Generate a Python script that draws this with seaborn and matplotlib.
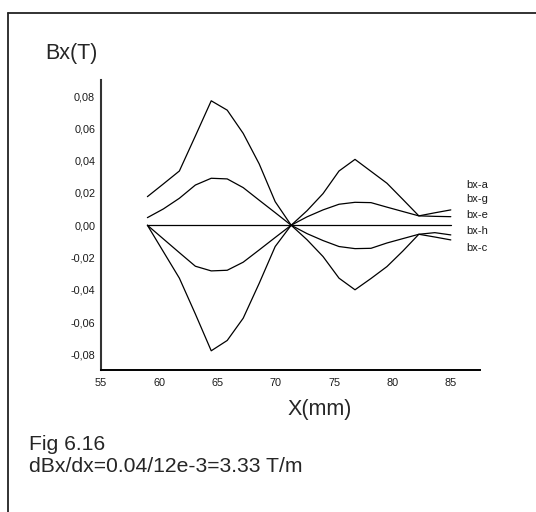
import matplotlib
matplotlib.use("Agg")
import matplotlib.pyplot as plt
from matplotlib.lines import Line2D
from matplotlib.ticker import FixedLocator, MultipleLocator
import numpy as np
import pandas as pd
import seaborn as sns

# Probe positions along x (mm)
x_mm = [59.0, 60.37, 61.74, 63.11, 64.47, 65.84, 67.21, 68.58, 69.95, 71.32,
        72.68, 74.05, 75.42, 76.79, 78.16, 79.53, 80.89, 82.26, 83.63, 85.0]

# Measured Bx (T) for each run
bx_a = [0.0, -0.0164, -0.0328, -0.0550, -0.0778, -0.0714, -0.0576, -0.0360, -0.0132, 0.0,
        0.0090, 0.0196, 0.0336, 0.0408, 0.0334, 0.0260, 0.0160, 0.0058, 0.0077, 0.0095]
bx_g = [0.0, -0.0085, -0.0170, -0.0254, -0.0283, -0.0279, -0.0229, -0.0153, -0.0076, 0.0,
        0.0052, 0.0095, 0.0130, 0.0142, 0.0140, 0.0112, 0.0085, 0.0058, 0.0055, 0.0053]
bx_e = [0.0] * 20
bx_h = [0.0047, 0.0101, 0.0167, 0.0249, 0.0291, 0.0287, 0.0233, 0.0155, 0.0078, 0.0,
        -0.0052, -0.0095, -0.0132, -0.0145, -0.0143, -0.0110, -0.0083, -0.0056, -0.0046, -0.0060]
bx_c = [0.0177, 0.0256, 0.0336, 0.0553, 0.0771, 0.0713, 0.0569, 0.0380, 0.0146, 0.0,
        -0.0090, -0.0194, -0.0328, -0.0400, -0.0330, -0.0256, -0.0160, -0.0056, -0.0073, -0.0091]

series_names = ["bx-a", "bx-g", "bx-e", "bx-h", "bx-c"]
series_values = [bx_a, bx_g, bx_e, bx_h, bx_c]
# Where each run's name sits, right of the curve ends (data units)
label_x = 86.3
label_y = [0.0249, 0.0163, 0.0064, -0.0035, -0.0140]

x_ticks = [55, 60, 65, 70, 75, 80, 85]
x_tick_labels = ["55", "60", "65", "70", "75", "80", "85"]
y_ticks = [-0.08, -0.06, -0.04, -0.02, 0.0, 0.02, 0.04, 0.06, 0.08]
y_tick_labels = ["-0,08", "-0,06", "-0,04", "-0,02", "0,00", "0,02", "0,04", "0,06", "0,08"]

x_label = "X(mm)"
y_label = "Bx(T)"
caption = ["Fig 6.16", "dBx/dx=0.04/12e-3=3.33 T/m"]

df = pd.concat(
    [pd.DataFrame({"x": x_mm, "bx": v, "run": n}) for n, v in zip(series_names, series_values)],
    ignore_index=True,
)

sns.set_theme(style="white")
plt.rcParams["font.family"] = ["Liberation Sans", "DejaVu Sans"]

fig = plt.figure(figsize=(5.36, 5.12), dpi=100)
ax = fig.add_axes([0.1879, 0.2764, 0.7076, 0.5674])

sns.lineplot(data=df, x="x", y="bx", hue="run", palette=["black"] * 5,
             estimator=None, sort=False, legend=False, linewidth=0.9, ax=ax)

ax.set_xlim(55, 87.5)
ax.set_ylim(-0.09, 0.09)
ax.xaxis.set_major_locator(FixedLocator(x_ticks))
ax.set_xticklabels(x_tick_labels)
ax.xaxis.set_minor_locator(MultipleLocator(2.5))
ax.yaxis.set_major_locator(FixedLocator(y_ticks))
ax.set_yticklabels(y_tick_labels)
ax.yaxis.set_minor_locator(MultipleLocator(0.01))

for side in ("top", "right"):
    ax.spines[side].set_visible(False)
ax.spines["left"].set_color("#333333")
ax.spines["left"].set_linewidth(1.5)
ax.spines["bottom"].set_color("black")
ax.spines["bottom"].set_linewidth(1.4)

ax.tick_params(axis="both", which="major", direction="in", length=4.8, width=0.9,
               color="black", labelsize=7.8, labelcolor="#1a1a1a")
ax.tick_params(axis="both", which="minor", direction="in", length=2.2, width=0.9,
               color="black")
ax.tick_params(axis="x", which="major", pad=5.5)
ax.tick_params(axis="y", which="major", pad=4)
ax.set_xlabel("")
ax.set_ylabel("")
ax.grid(False)

for name, ly in zip(series_names, label_y):
    ax.text(label_x, ly, name, fontsize=8, va="center", ha="left", color="#1a1a1a",
            clip_on=False)

# Axis titles
fig.text(45 / 536, 1 - 54 / 512, y_label, fontsize=15.5, ha="left", va="center")
fig.text(320 / 536, 1 - 409 / 512, x_label, fontsize=15.5, ha="center", va="center")

# Caption below the plot
fig.text(29 / 536, 1 - 445 / 512, caption[0], fontsize=15.2, ha="left", va="center")
fig.text(29 / 536, 1 - 466 / 512, caption[1], fontsize=15.2, ha="left", va="center")

# Frame: only the top and left borders fall inside the image
fig.add_artist(Line2D([8.3 / 536, 8.3 / 536], [0.0, 1 - 12.7 / 512],
                      transform=fig.transFigure, color="#222222", linewidth=1.3))
fig.add_artist(Line2D([8.3 / 536, 1.0], [1 - 12.7 / 512, 1 - 12.7 / 512],
                      transform=fig.transFigure, color="#222222", linewidth=1.3))

fig.savefig("out.png", dpi=100, facecolor="white")
